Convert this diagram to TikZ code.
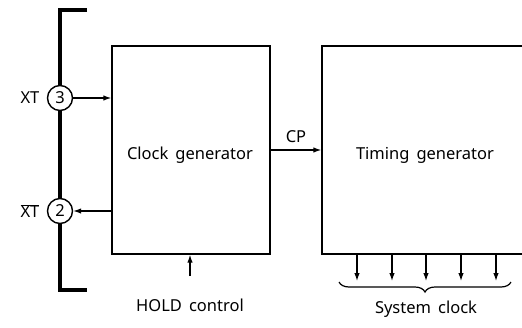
\documentclass[tikz,border=0pt]{standalone}
\usepackage{fontspec}
\setmainfont{Noto Sans}
\usetikzlibrary{arrows.meta,decorations.pathreplacing}
\tikzset{
  blk/.style={draw,line width=1.4pt,minimum width=158pt,minimum height=208pt,inner sep=0pt},
  pin/.style={draw,circle,line width=1.4pt,fill=white,minimum size=25pt,inner sep=0pt},
  arr/.style={line width=1.2pt,-{Latex[length=8pt,width=5.5pt]}},
  lbl/.style={font=\fontsize{16.5}{19}\selectfont}
}
\begin{document}
\begin{tikzpicture}[x=1pt,y=-1pt,every node/.style={font=\fontsize{16.5}{19}\selectfont}]
\useasboundingbox (0,0) rectangle (522,327);
\clip (0,0) rectangle (522,327);
% thick bracket of the package
\draw[line width=4pt] (87,10) -- (60,10) -- (60,290) -- (87,290);
\node[pin] (p3) at (60,98) {3};
\node[pin] (p2) at (60,211) {2};
\node[lbl] (xt) at (30,98) {XT};
\node[lbl] (xtb) at (30,211) {$\overline{\mbox{XT}}$};
% blocks
\node[blk] (clk) at (191,150) {};
\node[lbl] at (190,155) {Clock\, generator};
\node[blk,minimum width=206pt] (tim) at (425,150) {};
\node[lbl] at (425,155) {Timing\, generator};
% connections
\draw[arr] (p3.east) -- (clk.west |- p3);
\draw[arr] (clk.west |- p2) -- (p2.east);
\draw[arr] (clk.east) -- node[above=3pt,lbl] (cp) {CP} (tim.west);
\coordinate (hold) at (190,276);
\draw[arr] (hold) -- (hold |- clk.south);
\node[lbl] (holdtxt) at (190,305) {HOLD\, control};
\foreach \x in {357,392,426,461,496}
  \draw[arr] (tim.south -| \x,0) -- (\x,281);
\draw[line width=1.2pt,decorate,decoration={brace,mirror,amplitude=10pt}] (339,282) -- (511,282);
\node[lbl] (sysclk) at (426,309) {System\, clock};
\end{tikzpicture}
\end{document}
